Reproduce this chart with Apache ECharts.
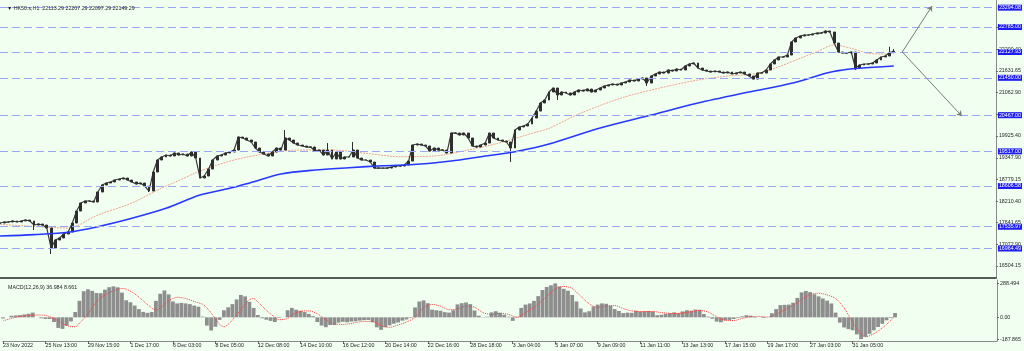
<!DOCTYPE html>
<html>
<head>
<meta charset="utf-8">
<style>
html, body { margin: 0; padding: 0; background: #f0fff0; }
#main { width: 1024px; height: 351px; }
</style>
<script src="https://cdn.jsdelivr.net/npm/echarts@6/dist/echarts.min.js"></script>
</head>
<body>
<div id="main"></div>
<script>
// time labels, one every 10 bars
var timeLabels = ['23 Nov 2022', '25 Nov 13:00', '29 Nov 15:00', '1 Dec 17:00', '6 Dec 03:00', '8 Dec 05:00',
    '12 Dec 08:00', '14 Dec 10:00', '16 Dec 12:00', '20 Dec 14:00', '22 Dec 16:00', '28 Dec 18:00',
    '3 Jan 04:00', '5 Jan 07:00', '9 Jan 09:00', '11 Jan 11:00', '13 Jan 13:00', '17 Jan 15:00',
    '19 Jan 17:00', '27 Jan 03:00', '31 Jan 05:00'];
var barsPerLabel = 10;
var totalSlots = 235;

// closing prices per bar
var firstOpen = 17620;
var closes = [
    17634, 17660, 17660, 17687, 17660, 17687, 17713, 17687, 17581, 17608,
    17581, 17503, 16977, 17187, 17240, 17345, 17398, 17634, 17949, 18160,
    18212, 18212, 18186, 18449, 18633, 18685, 18712, 18764, 18790, 18817,
    18764, 18712, 18659, 18685, 18606, 18475, 18974, 19290, 19369, 19421,
    19395, 19474, 19421, 19447, 19395, 19500, 19342, 18817, 18869, 19053,
    19290, 19395, 19421, 19474, 19500, 19552, 19894, 19868, 19815, 19763,
    19605, 19500, 19447, 19395, 19500, 19605, 19552, 19868, 19815, 19736,
    19684, 19658, 19631, 19631, 19526, 19552, 19421, 19552, 19316, 19500,
    19316, 19369, 19369, 19552, 19342, 19290, 19290, 19237, 19079, 19079,
    19079, 19079, 19106, 19132, 19132, 19158, 19263, 19684, 19710, 19684,
    19658, 19526, 19605, 19552, 19552, 19474, 19999, 19999, 19947, 19999,
    19868, 19658, 19631, 19684, 19736, 19999, 19868, 19815, 19789, 19763,
    19605, 20078, 20157, 20183, 20236, 20393, 20577, 20788, 20866, 21077,
    21182, 20998, 21077, 21051, 20998, 21077, 21129, 21103, 21156, 21077,
    21129, 21182, 21234, 21261, 21287, 21261, 21313, 21340, 21392, 21366,
    21418, 21445, 21313, 21497, 21550, 21602, 21576, 21655, 21629, 21681,
    21655, 21760, 21813, 21839, 21707, 21655, 21629, 21602, 21629, 21602,
    21576, 21602, 21550, 21576, 21602, 21550, 21497, 21418, 21576, 21576,
    21655, 21813, 21918, 21997, 21997, 22049, 22391, 22496, 22548, 22575,
    22575, 22601, 22627, 22627, 22680, 22654, 22364, 22128, 22102, 22102,
    22128, 21707, 21786, 21813, 21813, 21839, 21918, 21997, 22023, 22113, 22149.29
];
// visible wicks: [bar, low, high]
var wicks = [
    [8, 17450, null], [12, 16819, null], [35, 18449, null], [67, null, 20078], [77, null, 19736],
    [83, null, 19763], [120, 19237, null], [131, 20866, null], [152, 21234, null],
    [201, 21655, null], [209, null, 22267], [210, 22097.29, 22207.29]
];

// moving averages read at key bars: [bar, value]
var maSlow = [[0, 17292], [8, 17330], [16, 17390], [23, 17537], [31, 17758], [39, 18020], [47, 18370],
    [55, 18572], [59, 18700], [66, 18922], [74, 19027], [82, 19087], [90, 19140], [98, 19177],
    [106, 19263], [113, 19376], [121, 19508], [129, 19710], [141, 20131], [153, 20472], [164, 20788],
    [176, 21077], [186, 21306], [194, 21568], [197, 21640], [202, 21700], [210, 21760]];
var maFast = [[0, 17600], [9, 17537], [16, 17503], [23, 17844], [31, 18160], [38, 18554], [41, 18700],
    [47, 19000], [55, 19290], [63, 19466], [70, 19552], [78, 19552], [86, 19466], [94, 19376],
    [102, 19395], [110, 19552], [117, 19728], [125, 19991], [129, 20123], [136, 20500], [146, 20919],
    [155, 21182], [164, 21392], [171, 21497], [178, 21568], [183, 21742], [188, 21962], [192, 22136],
    [196, 22312], [200, 22225], [204, 22094], [208, 22075], [210, 22102]];

// MACD main per bar
var macdHist = [
    -10, 0, 13, 16, 19, 24, 30, 40, 0, -8,
    -14, -14, -40, -90, -98, -72, -35, 45, 140, 222,
    238, 225, 206, 205, 235, 256, 263, 255, 210, 145,
    128, 100, 70, 46, 38, 45, 140, 200, 228, 195,
    135, 118, 122, 118, 112, 100, 90, 6, -70, -112,
    -80, -22, 60, 85, 112, 152, 190, 178, 132, 80,
    20, -8, -20, -30, -40, -5, 0, 60, 80, 65,
    56, 45, 28, 10, -40, -70, -84, -65, -65, -45,
    -38, -42, -36, -34, -28, -24, -22, -42, -85, -106,
    -84, -68, -54, -44, -28, -18, -5, 84, 134, 144,
    120, 65, 60, 56, 44, 40, 60, 110, 120, 126,
    112, 58, 14, -2, 5, 42, 52, 38, 22, 5,
    -30, 5, 80, 108, 118, 140, 180, 232, 258, 272,
    288, 262, 242, 226, 190, 135, 75, 42, 52, 92,
    108, 118, 115, 100, 70, 54, 36, 40, 38, 56,
    50, 52, 54, 50, 18, 22, 30, 36, 42, 36,
    50, 60, 56, 66, 64, 28, 6, -12, -36, -42,
    -26, -22, -14, -6, 8, 18, 14, -4, 0, -6,
    0, 35, 70, 104, 106, 108, 124, 165, 212, 224,
    214, 196, 178, 160, 142, 118, 40, -45, -86, -100,
    -110, -145, -185, -165, -140, -110, -82, -55, -25, -6, 36.984
];
var macdSignal = [[0, -30], [3, 0], [6, 15], [9, 20], [11, 5], [13, -30], [15, -70], [17, -80], [18, -50],
    [20, 30], [22, 130], [24, 190], [26, 225], [28, 245], [29, 240], [31, 200], [33, 140], [35, 80],
    [36, 60], [37, 80], [39, 140], [41, 170], [43, 160], [45, 135], [47, 110], [48, 80], [50, -10],
    [51, -60], [52, -80], [53, -60], [55, 20], [57, 110], [58, 150], [59, 160], [60, 130], [62, 60],
    [64, 0], [65, -20], [67, -10], [68, 20], [70, 50], [72, 55], [74, 30], [76, -20], [78, -55],
    [80, -60], [83, -45], [85, -35], [87, -35], [89, -70], [91, -85], [93, -65], [95, -40], [97, 0],
    [99, 80], [101, 110], [103, 95], [105, 65], [107, 70], [109, 95], [111, 85], [113, 40], [115, 25],
    [117, 35], [119, 25], [121, 0], [123, 40], [126, 110], [128, 180], [130, 240], [132, 262],
    [134, 245], [136, 180], [138, 115], [140, 85], [142, 95], [144, 100], [146, 75], [148, 55],
    [150, 48], [153, 50], [155, 40], [158, 32], [161, 42], [164, 58], [166, 45], [168, 5], [170, -25],
    [172, -28], [174, -10], [176, 5], [178, 8], [180, 2], [182, 25], [184, 65], [186, 100], [188, 150],
    [190, 195], [192, 205], [194, 190], [196, 160], [198, 80], [200, -40], [202, -140], [203, -165],
    [205, -140], [207, -90], [208, -60], [210, 8.661]];

// axis tick labels
var priceTicks = [16504.15, 17072.90, 17641.65, 18210.40, 18779.15, 19347.90, 19925.40, 20494.15,
    21062.90, 21631.65, 22200.40, 22769.15];
var macdTicks = [288.494, 0, -187.865];

// horizontal levels drawn on the chart
var levels = [23294.08, 22785.00, 22127.93, 21450.00, 20467.00, 19517.00, 18606.58, 17535.97, 16964.49];
// arrow lines: [startBar, startPrice, endBar, endPrice]
var arrows = [[212, 22128, 218.5, 23337], [212, 22128, 226, 20446]];

var font = "'Liberation Sans', Arial, sans-serif";
var txt = '#1e1e1e';

var categories = [];
for (var i = 0; i < totalSlots; i++) {
    var k = i / barsPerLabel;
    categories.push(i % barsPerLabel === 0 && timeLabels[k] ? timeLabels[k] : '');
}
var hasLabel = function (idx, val) { return val !== ''; };

var candles = [];
for (var i = 0; i < closes.length; i++) {
    var o = i === 0 ? firstOpen : closes[i - 1];
    var c = closes[i];
    candles.push([o, c, Math.min(o, c), Math.max(o, c)]);
}
wicks.forEach(function (w) {
    var d = candles[w[0]];
    if (w[1] != null) d[2] = Math.min(d[2], w[1]);
    if (w[2] != null) d[3] = Math.max(d[3], w[2]);
});

var lineMarks = levels.map(function (v) {
    return {
        yAxis: v,
        lineStyle: { color: '#9aa6f6', type: [8, 4], width: 1 },
        label: {
            show: true, position: 'end', distance: 2,
            formatter: v.toFixed(2),
            color: '#ffffff', backgroundColor: '#1c1cf5',
            padding: [1, 1, 0, 1], fontSize: 5.3, fontFamily: font
        }
    };
});
arrows.forEach(function (a) {
    lineMarks.push([
        { coord: [a[0], a[1]], symbol: 'none', lineStyle: { color: '#7a7a7a', type: 'solid', width: 1 }, label: { show: false } },
        { coord: [a[2], a[3]], symbol: 'arrow', symbolSize: 5 }
    ]);
});

var myChart = echarts.init(document.getElementById('main'));
var barCol = '#2e2e2e';
var option = {
    animation: false,
    backgroundColor: '#f0fff0',
    title: [
        { text: '\u25BC HK50.s,H1  22113.29 22207.29 22097.29 22149.29', left: 2, top: 1,
          textStyle: { fontSize: 5.3, fontWeight: 'normal', color: txt, fontFamily: font } },
        { text: 'MACD(12,26,9) 36.984 8.661', left: 3, top: 280,
          textStyle: { fontSize: 5.3, fontWeight: 'normal', color: txt, fontFamily: font } }
    ],
    grid: [
        { left: 0, right: 27, top: 0, height: 278 },
        { left: 0, right: 27, top: 280, height: 61 }
    ],
    xAxis: [
        {
            type: 'category', gridIndex: 0, data: categories, boundaryGap: false,
            axisLine: { onZero: false, lineStyle: { color: '#5a5a5a', width: 2 } },
            axisTick: { show: false }, axisLabel: { show: false }, splitLine: { show: false }
        },
        {
            type: 'category', gridIndex: 1, data: categories, boundaryGap: false,
            axisLine: { onZero: false, lineStyle: { color: '#8a8a8a', width: 1 } },
            axisTick: { interval: hasLabel, length: 3, lineStyle: { color: '#666' } },
            axisLabel: { interval: hasLabel, align: 'left', margin: 2, fontSize: 5.3, color: txt, fontFamily: font },
            splitLine: { show: false }
        }
    ],
    yAxis: [
        {
            type: 'value', gridIndex: 0, position: 'right', min: 16189, max: 23495,
            axisLine: { show: true, lineStyle: { color: '#8a8a8a' } },
            axisTick: { show: true, length: 2, customValues: priceTicks, lineStyle: { color: '#666' } },
            axisLabel: { customValues: priceTicks, margin: 3, fontSize: 5.3, color: txt, fontFamily: font,
                formatter: function (v) { return v.toFixed(2); } },
            splitLine: { show: false }
        },
        {
            type: 'value', gridIndex: 1, position: 'right', min: -201, max: 317,
            axisLine: { show: true, lineStyle: { color: '#8a8a8a' } },
            axisTick: { show: true, length: 2, customValues: macdTicks, lineStyle: { color: '#666' } },
            axisLabel: { customValues: macdTicks, margin: 3, fontSize: 5.3, color: txt, fontFamily: font,
                formatter: function (v) { return v === 0 ? '0.00' : String(v); } },
            splitLine: { show: false }
        }
    ],
    series: [
        {
            name: 'HK50 close', type: 'line', xAxisIndex: 0, yAxisIndex: 0, data: closes,
            showSymbol: false, lineStyle: { color: '#3a3a3a', width: 1.2 }, z: 2
        },
        {
            name: 'HK50', type: 'candlestick', xAxisIndex: 0, yAxisIndex: 0,
            data: candles, barWidth: 2.4, z: 2,
            itemStyle: { color: barCol, color0: barCol, borderColor: barCol, borderColor0: barCol, borderColorDoji: barCol, borderWidth: 1 },
            markLine: { silent: true, symbol: ['none', 'none'], animation: false, data: lineMarks }
        },
        {
            name: 'MA slow', type: 'line', xAxisIndex: 0, yAxisIndex: 0, data: maSlow,
            showSymbol: false, smooth: 0.3, lineStyle: { color: '#2638ff', width: 1.6 }, z: 3
        },
        {
            name: 'MA fast', type: 'line', xAxisIndex: 0, yAxisIndex: 0, data: maFast,
            showSymbol: false, smooth: 0.3, lineStyle: { color: '#f2a08a', width: 1, type: [2, 1] }, z: 1
        },
        {
            name: 'MACD', type: 'bar', xAxisIndex: 1, yAxisIndex: 1, data: macdHist,
            barWidth: 3.8, itemStyle: { color: '#8e8e8e' }
        },
        {
            name: 'Signal', type: 'line', xAxisIndex: 1, yAxisIndex: 1, data: macdSignal,
            showSymbol: false, smooth: 0.3, lineStyle: { color: '#ff3b3b', width: 1, type: 'dotted' }
        }
    ]
};
myChart.setOption(option);
</script>
</body>
</html>
